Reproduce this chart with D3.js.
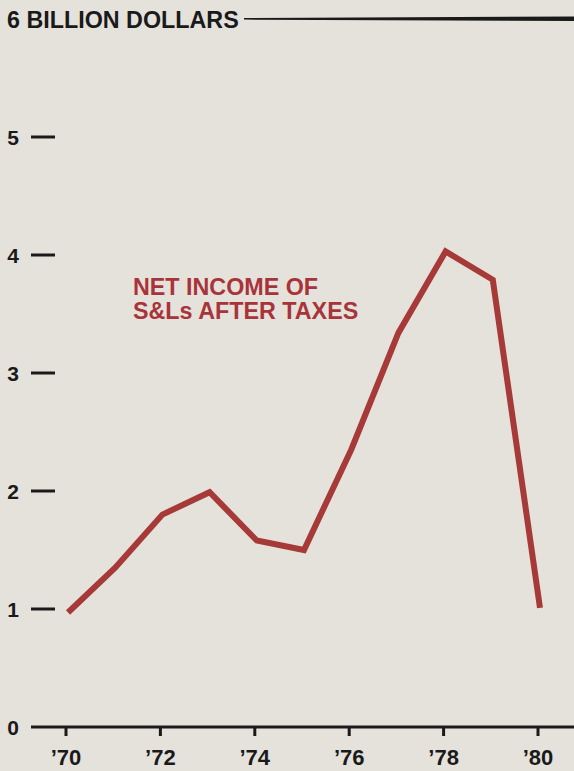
<!DOCTYPE html>
<html lang="en">
<head>
  <meta charset="UTF-8" />
  <title>Net income of S&amp;Ls after taxes</title>
  <script src="https://d3js.org/d3.v7.min.js"></script>
  <style>
    body {
      margin: 0;
      background: #e5e2dc;
    }
    svg {
      display: block;
      font-family: "Liberation Sans", Arial, sans-serif;
      font-weight: bold;
    }
    .tick-label {
      fill: #1a1a1a;
      font-size: 21px;
    }
    .axis-line {
      stroke: #1a1a1a;
      stroke-width: 3px;
    }
    .series {
      fill: none;
      stroke: #a63a38;
      stroke-width: 6px;
      stroke-linejoin: miter;
    }
    .note {
      fill: #a8343a;
      font-size: 23.3px;
    }
  </style>
</head>
<body>
<svg width="574" height="771"></svg>
<script>
// net income of savings & loans after taxes, billions of dollars
const years = [1970, 1971, 1972, 1973, 1974, 1975, 1976, 1977, 1978, 1979, 1980];
const income = [0.97, 1.35, 1.80, 1.99, 1.58, 1.50, 2.35, 3.34, 4.03, 3.79, 1.01];
const yTicks = [0, 1, 2, 3, 4, 5];
const xTicks = [1970, 1972, 1974, 1976, 1978, 1980];
const noteLines = ["NET INCOME OF", "S&Ls AFTER TAXES"];

const svg = d3.select("svg");

const x = d3.scaleLinear().domain([1970, 1980]).range([68, 540]);
const y = d3.scaleLinear().domain([0, 6]).range([727, 19]);

// top "6" line, thickening to the right
svg.append("path")
  .attr("d", `M244,${y(6) - 1}L574,${y(6) - 2.5}L574,${y(6) + 2}L244,${y(6) + 0.6}Z`)
  .attr("fill", "#1a1a1a");

svg.append("text")
  .attr("class", "tick-label")
  .attr("x", 7)
  .attr("y", y(6) + 8.5)
  .style("font-size", "23.3px")
  .text("6 BILLION DOLLARS");

// y ticks: short dashes
const yg = svg.append("g");
yg.selectAll("line")
  .data(yTicks.filter(d => d > 0))
  .join("line")
  .attr("class", "axis-line")
  .attr("x1", 31).attr("x2", 55)
  .attr("y1", d => y(d)).attr("y2", d => y(d));

yg.selectAll("text")
  .data(yTicks)
  .join("text")
  .attr("class", "tick-label")
  .attr("x", 19)
  .attr("y", d => y(d) + 8)
  .attr("text-anchor", "end")
  .text(d => d);

// baseline with tick marks
svg.append("line")
  .attr("class", "axis-line")
  .attr("x1", 31).attr("x2", 574)
  .attr("y1", y(0)).attr("y2", y(0));

const xg = svg.append("g");
xg.selectAll("line")
  .data(xTicks)
  .join("line")
  .attr("class", "axis-line")
  .attr("x1", d => x(d) - 2).attr("x2", d => x(d) - 2)
  .attr("y1", y(0)).attr("y2", y(0) + 9);

xg.selectAll("text")
  .data(xTicks)
  .join("text")
  .attr("class", "tick-label")
  .attr("x", d => x(d) - 2)
  .attr("y", 765)
  .attr("text-anchor", "middle")
  .style("font-size", "22px")
  .text(d => "\u2019" + String(d).slice(2));

// series line
const line = d3.line()
  .x((d, i) => x(years[i]))
  .y(d => y(d));

svg.append("path")
  .datum(income)
  .attr("class", "series")
  .attr("d", line);

// annotation
svg.append("text")
  .attr("class", "note")
  .attr("x", 133)
  .attr("y", 295)
  .selectAll("tspan")
  .data(noteLines)
  .join("tspan")
  .attr("x", 133)
  .attr("dy", (d, i) => i === 0 ? 0 : 24)
  .text(d => d);
</script>
</body>
</html>
